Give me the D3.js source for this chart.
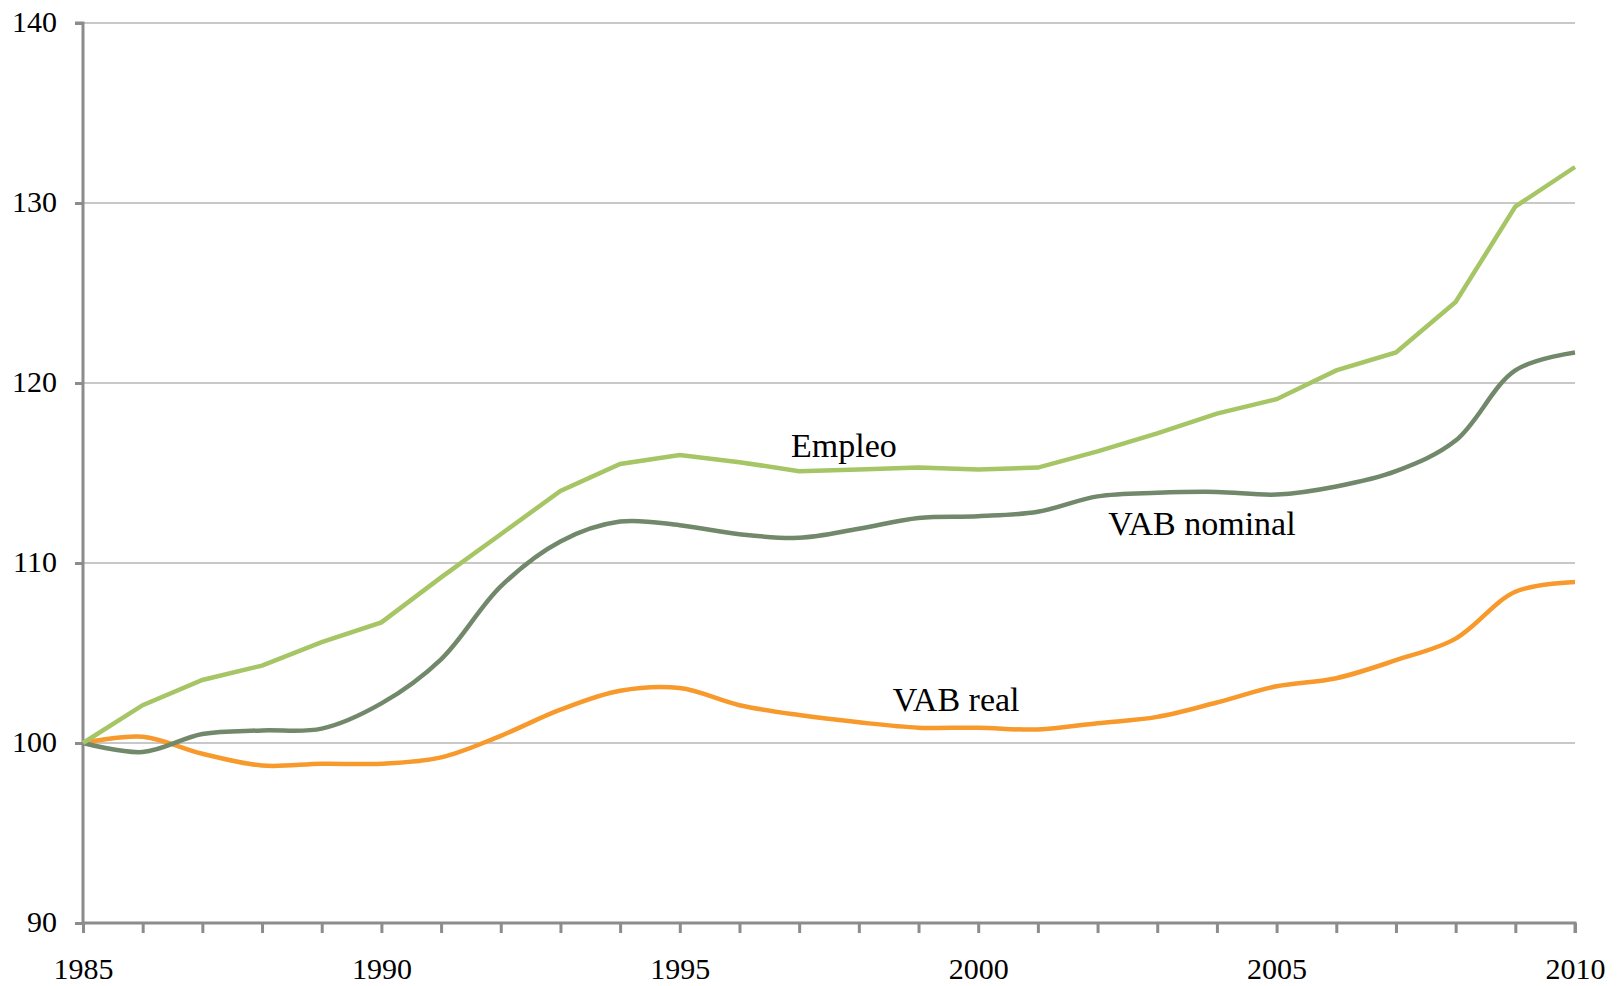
<!DOCTYPE html>
<html><head><meta charset="utf-8">
<script src="https://cdn.jsdelivr.net/npm/d3@7"></script>
<style>html,body{margin:0;padding:0;background:#fff;}svg{display:block;}</style>
</head><body>
<svg id="c" width="1623" height="986"></svg>
<script>
const years = d3.range(1985, 2011);
const empleo = [100,102.1,103.5,104.3,105.6,106.7,109.2,111.6,114.0,115.5,116.0,115.6,115.1,115.2,115.3,115.2,115.3,116.2,117.2,118.3,119.1,120.7,121.7,124.5,129.8,132.0];
const vabNominal = [100,99.5,100.5,100.7,100.8,102.2,104.65,108.7,111.2,112.3,112.1,111.6,111.4,111.9,112.5,112.6,112.85,113.7,113.9,113.95,113.8,114.25,115.1,116.8,120.7,121.7];
const vabReal = [100,100.35,99.4,98.75,98.85,98.85,99.2,100.4,101.85,102.9,103.05,102.1,101.55,101.15,100.85,100.85,100.75,101.1,101.45,102.25,103.15,103.6,104.6,105.8,108.4,108.95];
const yTicks = [90,100,110,120,130,140];
const xLabels = [1985,1990,1995,2000,2005,2010];
const seriesLabels = [
  {text:"Empleo", year:1997.75, value:115.89},
  {text:"VAB nominal", year:2003.75, value:111.56},
  {text:"VAB real", year:1999.63, value:101.78}
];

const svg = d3.select("#c");
const m = {left:83, right:1575, top:23, bottom:923};
const x = d3.scaleLinear().domain([1985,2010]).range([m.left,m.right]);
const y = d3.scaleLinear().domain([90,140]).range([m.bottom,m.top]);
const font = "'Liberation Serif','Times New Roman',serif";

// gridlines
svg.append("g").selectAll("line").data(yTicks.filter(d=>d>90)).join("line")
  .attr("x1",m.left).attr("x2",m.right).attr("y1",d=>y(d)).attr("y2",d=>y(d))
  .attr("stroke","#c8c8c8").attr("stroke-width",2);

// y axis
const ya = svg.append("g").attr("transform",`translate(${m.left},0)`)
  .call(d3.axisLeft(y).tickValues(yTicks).tickSize(8).tickPadding(18));
ya.select(".domain").attr("stroke","#8c8c8c").attr("stroke-width",3).attr("d",`M-8,${m.top}H0V${m.bottom}`);
ya.selectAll(".tick line").attr("stroke","#8c8c8c").attr("stroke-width",3);
ya.selectAll(".tick text").attr("font-family",font).attr("font-size",30).attr("fill","#000").attr("dy","0.28em");

// x axis
const xa = svg.append("g").attr("transform",`translate(0,${m.bottom})`)
  .call(d3.axisBottom(x).tickValues(years).tickSize(10).tickPadding(17)
    .tickFormat(d=>xLabels.includes(d)?String(d):""));
xa.select(".domain").attr("stroke","#8c8c8c").attr("stroke-width",3).attr("d",`M${m.left},0H${m.right}V10`);
xa.selectAll(".tick line").attr("stroke","#8c8c8c").attr("stroke-width",3);
xa.selectAll(".tick text").attr("font-family",font).attr("font-size",30).attr("fill","#000").attr("dy","0.95em");

// lines
const lineLin = d3.line().x((d,i)=>x(years[i])).y(d=>y(d));
const lineSm = d3.line().x((d,i)=>x(years[i])).y(d=>y(d)).curve(d3.curveCatmullRom.alpha(0.5));
svg.append("path").datum(vabReal).attr("d",lineSm).attr("fill","none").attr("stroke","#f7992b").attr("stroke-width",4.5);
svg.append("path").datum(vabNominal).attr("d",lineSm).attr("fill","none").attr("stroke","#71886a").attr("stroke-width",4.5);
svg.append("path").datum(empleo).attr("d",lineLin).attr("fill","none").attr("stroke","#a6c565").attr("stroke-width",4.5);

// labels
svg.append("g").selectAll("text").data(seriesLabels).join("text")
  .attr("x",d=>x(d.year)).attr("y",d=>y(d.value)).attr("text-anchor","middle")
  .attr("font-family",font).attr("font-size",34).attr("fill","#000").text(d=>d.text);
</script>
</body></html>
